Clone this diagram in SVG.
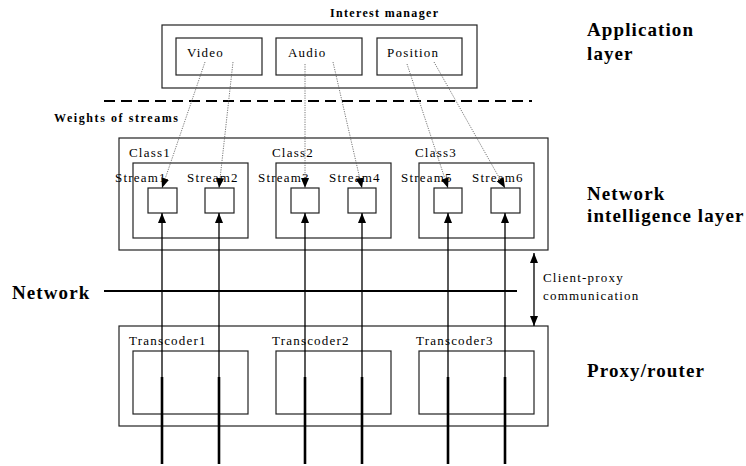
<svg xmlns="http://www.w3.org/2000/svg" width="746" height="466" viewBox="0 0 746 466">
<style>
.box{fill:none;stroke:#222;stroke-width:1.2}
text{font-family:'Liberation Serif','DejaVu Serif',Tinos,serif}
.t{font-size:13px;fill:#000;letter-spacing:1.2px}
.b{font-weight:bold;font-size:19px;fill:#000;letter-spacing:1.1px}
.bs{font-weight:bold;font-size:12px;fill:#000}
.dot{fill:none;stroke:#555;stroke-width:0.8;stroke-dasharray:1.2 1.2}
.sol{fill:none;stroke:#000;stroke-width:1.3}
.thick{fill:none;stroke:#000;stroke-width:2.6}
</style>
<defs>
<marker id="ah" markerUnits="userSpaceOnUse" markerWidth="10" markerHeight="10" viewBox="0 0 10 10" refX="10" refY="5" orient="auto">
<path d="M0,1 L10,5 L0,9 Z" fill="#000"/>
</marker>
<marker id="ahs" markerUnits="userSpaceOnUse" markerWidth="10" markerHeight="10" viewBox="0 0 10 10" refX="10" refY="5" orient="auto-start-reverse">
<path d="M0,1 L10,5 L0,9 Z" fill="#000"/>
</marker>
</defs>

<g id="labels">
<text class="b" x="587" y="36">Application</text>
<text class="b" x="587" y="60">layer</text>
<text class="b" x="587" y="200">Network</text>
<text class="b" x="587" y="222">intelligence layer</text>
<text class="b" x="587" y="377">Proxy/router</text>
<text class="b" x="12" y="299">Network</text>
<text class="bs" x="54" y="122" textLength="124" lengthAdjust="spacing">Weights of streams</text>
<text class="t" x="543" y="282">Client-proxy</text>
<text class="t" x="543" y="300">communication</text>
</g>

<g id="interest-manager">
<rect class="box" x="162" y="25" width="315" height="63"/>
<text class="bs" x="330" y="17" textLength="108" lengthAdjust="spacing">Interest manager</text>
</g>
<g id="video"><rect class="box" x="176" y="38" width="86" height="37"/><text class="t" x="187" y="57">Video</text></g>
<g id="audio"><rect class="box" x="276" y="38" width="86" height="37"/><text class="t" x="288" y="57">Audio</text></g>
<g id="position"><rect class="box" x="377" y="38" width="85" height="37"/><text class="t" x="387" y="57">Position</text></g>

<g id="divider"><line x1="104" y1="101" x2="532" y2="101" stroke="#000" stroke-width="2.2" stroke-dasharray="11 6"/></g>

<g id="network-intelligence"><rect class="box" x="119" y="138" width="429" height="112"/></g>
<g id="class1"><rect class="box" x="133" y="163" width="115" height="75"/><text class="t" x="129" y="157">Class1</text></g>
<g id="class2"><rect class="box" x="276" y="163" width="115" height="75"/><text class="t" x="272" y="157">Class2</text></g>
<g id="class3"><rect class="box" x="419" y="163" width="115" height="75"/><text class="t" x="415" y="157">Class3</text></g>

<g id="stream1"><rect class="box" x="148" y="188" width="29" height="25"/><text class="t" x="115" y="182">Stream1</text></g>
<g id="stream2"><rect class="box" x="205" y="188" width="29" height="25"/><text class="t" x="187" y="182">Stream2</text></g>
<g id="stream3"><rect class="box" x="291" y="188" width="28" height="25"/><text class="t" x="258" y="182">Stream3</text></g>
<g id="stream4"><rect class="box" x="348" y="188" width="28" height="25"/><text class="t" x="329" y="182">Stream4</text></g>
<g id="stream5"><rect class="box" x="434" y="188" width="28" height="25"/><text class="t" x="401" y="182">Stream5</text></g>
<g id="stream6"><rect class="box" x="491" y="188" width="29" height="25"/><text class="t" x="472" y="182">Stream6</text></g>

<g id="proxy-router"><rect class="box" x="119" y="326" width="429" height="100"/></g>
<g id="transcoder1"><rect class="box" x="133" y="351" width="115" height="63"/><text class="t" x="129" y="345">Transcoder1</text></g>
<g id="transcoder2"><rect class="box" x="276" y="351" width="115" height="63"/><text class="t" x="272" y="345">Transcoder2</text></g>
<g id="transcoder3"><rect class="box" x="419" y="351" width="115" height="63"/><text class="t" x="416" y="345">Transcoder3</text></g>

<g id="connectors">
<line class="dot" x1="205" y1="62" x2="162" y2="188" marker-end="url(#ah)"/>
<line class="dot" x1="233" y1="62" x2="219" y2="188" marker-end="url(#ah)"/>
<line class="dot" x1="305" y1="64" x2="305" y2="188" marker-end="url(#ah)"/>
<line class="dot" x1="333" y1="62" x2="362" y2="188" marker-end="url(#ah)"/>
<line class="dot" x1="407" y1="64" x2="448" y2="188" marker-end="url(#ah)"/>
<line class="dot" x1="434" y1="62" x2="505" y2="188" marker-end="url(#ah)"/>

<line class="sol" x1="162" y1="464" x2="162" y2="213" marker-end="url(#ah)"/>
<line class="sol" x1="219" y1="464" x2="219" y2="213" marker-end="url(#ah)"/>
<line class="sol" x1="305" y1="464" x2="305" y2="213" marker-end="url(#ah)"/>
<line class="sol" x1="362" y1="464" x2="362" y2="213" marker-end="url(#ah)"/>
<line class="sol" x1="448" y1="464" x2="448" y2="213" marker-end="url(#ah)"/>
<line class="sol" x1="505" y1="464" x2="505" y2="213" marker-end="url(#ah)"/>

<line class="thick" x1="162" y1="377" x2="162" y2="464"/>
<line class="thick" x1="219" y1="377" x2="219" y2="464"/>
<line class="thick" x1="305" y1="377" x2="305" y2="464"/>
<line class="thick" x1="362" y1="377" x2="362" y2="464"/>
<line class="thick" x1="448" y1="377" x2="448" y2="464"/>
<line class="thick" x1="505" y1="377" x2="505" y2="464"/>

<line x1="104" y1="291" x2="517" y2="291" stroke="#000" stroke-width="2.2"/>
<line class="sol" x1="534" y1="253" x2="534" y2="326" marker-start="url(#ahs)" marker-end="url(#ahs)"/>
</g>
</svg>
